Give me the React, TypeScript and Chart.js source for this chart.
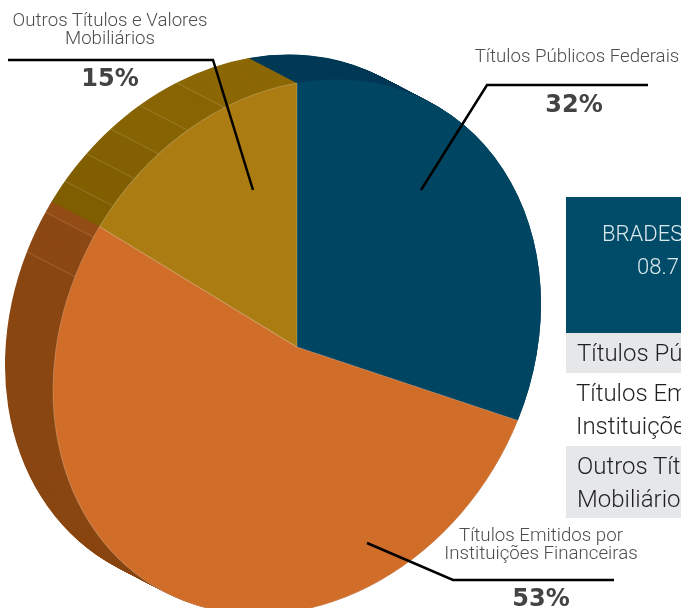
import React, { useEffect, useRef } from "react";
import { Chart, registerables } from "chart.js";

Chart.register(...registerables);

// Slices of the top face
const categories = ["Títulos Públicos Federais", "Títulos Emitidos por Instituições Financeiras", "Outros Títulos e Valores Mobiliários"];
const shares = [32, 53, 15];
const topColors = ["#004562", "#D06D29", "#AB7C12"];
const topBorders = ["rgba(255,255,255,0)", "rgba(255,255,255,0.22)", "rgba(255,255,255,0.22)"];

// Facets of the side wall (same three shares, cut in facets)
const sideValues = [32, 49.8, 2.5, 0.7, 1.4, 2.0, 2.0, 2.2, 2.6, 4.8];
const sideColors = ["#003A57", "#8A4712", "#8C4813", "#934C15", "#7F5E00", "#815F01", "#836102", "#866403", "#896504", "#8C6806"];
const facetLineIndexes = [2, 3, 5, 6, 7, 8, 9];

// Projection of the pie onto the page
const CENTER = { x: 297, y: 347 };
const AXIS = { a: 244, b: -43, c: 0, d: 264 };
const DEPTH = { x: -48, y: -25 };
const STEPS = 70;
const R = 100;

const setLayer = (ctx: CanvasRenderingContext2D, arc: any, dx: number, dy: number) => {
  const sa = AXIS.a / R, sb = AXIS.b / R, sc = AXIS.c / R, sd = AXIS.d / R;
  ctx.setTransform(sa, sb, sc, sd, CENTER.x + dx - (sa * arc.x + sc * arc.y), CENTER.y + dy - (sb * arc.x + sd * arc.y));
};

const projection = {
  id: "projection",
  beforeDatasetDraw(chart: any, args: any) {
    const ctx: CanvasRenderingContext2D = chart.ctx;
    const arcs = chart.getDatasetMeta(args.index).data;
    arcs.forEach((arc: any) => { arc.innerRadius = 0; arc.outerRadius = R; });
    ctx.save();
    if (args.index === 1) {
      for (let i = STEPS; i >= 0; i--) {
        const t = i / STEPS;
        setLayer(ctx, arcs[0], DEPTH.x * t, DEPTH.y * t);
        arcs.forEach((arc: any) => arc.draw(ctx));
      }
      ctx.setTransform(1, 0, 0, 1, 0, 0);
      ctx.strokeStyle = "rgba(255,255,255,0.2)";
      ctx.lineWidth = 0.8;
      facetLineIndexes.forEach((idx) => {
        const u = Math.cos(arcs[idx].startAngle), v = Math.sin(arcs[idx].startAngle);
        const px = CENTER.x + AXIS.a * u + AXIS.c * v;
        const py = CENTER.y + AXIS.b * u + AXIS.d * v;
        ctx.beginPath();
        ctx.moveTo(px, py);
        ctx.lineTo(px + DEPTH.x, py + DEPTH.y);
        ctx.stroke();
      });
    } else {
      setLayer(ctx, arcs[0], 0, 0);
      arcs.forEach((arc: any) => arc.draw(ctx));
    }
    ctx.restore();
    return false;
  },
  afterDraw(chart: any) {
    const ctx: CanvasRenderingContext2D = chart.ctx;
    ctx.save();
    ctx.strokeStyle = "#000";
    ctx.lineWidth = 2.5;
    ctx.lineJoin = "miter";
    [
      [[8, 60], [213, 60], [253, 190]],
      [[648, 85], [487, 85], [421, 190]],
      [[367, 543], [453, 580], [614, 580]],
    ].forEach((path) => {
      ctx.beginPath();
      path.forEach(([x, y], i) => (i ? ctx.lineTo(x, y) : ctx.moveTo(x, y)));
      ctx.stroke();
    });
    ctx.restore();
  },
};

const labelFont = "Roboto, sans-serif";
const abs = (s: React.CSSProperties): React.CSSProperties => ({ position: "absolute", whiteSpace: "nowrap", ...s });
const callout: React.CSSProperties = { fontFamily: labelFont, fontWeight: 300, fontSize: 18.7, lineHeight: "18px", color: "#4d4d4f", textAlign: "center", transform: "translateX(-50%)" };
const pct: React.CSSProperties = { fontFamily: "'DejaVu Sans', sans-serif", fontWeight: 700, fontSize: 24, lineHeight: "28px", color: "#434345", textAlign: "center", transform: "translateX(-50%)" };
const rowText: React.CSSProperties = { fontFamily: labelFont, fontWeight: 300, fontSize: 24, lineHeight: "33px", color: "#1f1f21" };
const headText: React.CSSProperties = { fontFamily: labelFont, fontWeight: 300, fontSize: 22, lineHeight: "24px", color: "#dbe8ee" };

export default function App() {
  const ref = useRef<HTMLCanvasElement>(null);
  useEffect(() => {
    const chart = new Chart(ref.current!, {
      type: "pie",
      data: {
        labels: categories,
        datasets: [
          { data: shares, backgroundColor: topColors, borderColor: topBorders, borderWidth: 0.4, clip: false } as any,
          { data: sideValues, backgroundColor: sideColors, borderWidth: 0, clip: false } as any,
        ],
      },
      options: {
        responsive: false,
        animation: false,
        events: [],
        plugins: { legend: { display: false }, tooltip: { enabled: false } },
      },
      plugins: [projection],
    });
    return () => chart.destroy();
  }, []);
  return (
    <div style={{ position: "fixed", left: 0, top: 0, width: 681, height: 608, overflow: "hidden", background: "#fff" }}>
      <div style={abs({ left: 566, top: 197, width: 200, height: 136, background: "#004C68" })} />
      <div style={abs({ left: 566, top: 333, width: 200, height: 40, background: "#E6E7E8" })} />
      <div style={abs({ left: 566, top: 446, width: 200, height: 72, background: "#E6E7E8" })} />
      <canvas ref={ref} width={681} height={608} style={{ position: "absolute", left: 0, top: 0, width: 681, height: 608 }} />
      <div style={abs({ ...callout, left: 110, top: 11 })}>Outros Títulos e Valores<br />Mobiliários</div>
      <div style={abs({ ...callout, left: 577, top: 47 })}>Títulos Públicos Federais</div>
      <div style={abs({ ...callout, left: 541, top: 526 })}>Títulos Emitidos por<br />Instituições Financeiras</div>
      <div style={abs({ ...pct, left: 110, top: 64 })}>15%</div>
      <div style={abs({ ...pct, left: 574, top: 90 })}>32%</div>
      <div style={abs({ ...pct, left: 541, top: 584 })}>53%</div>
      <div style={abs({ ...headText, left: 602, top: 222 })}>BRADESCO</div>
      <div style={abs({ ...headText, left: 637, top: 255 })}>08.7</div>
      <div style={abs({ ...rowText, left: 577, top: 337 })}>Títulos Públicos Federais</div>
      <div style={abs({ ...rowText, left: 576, top: 377 })}>Títulos Emitidos por<br />Instituições Financeiras</div>
      <div style={abs({ ...rowText, left: 577, top: 450 })}>Outros Títulos e Valores<br />Mobiliários</div>
    </div>
  );
}
